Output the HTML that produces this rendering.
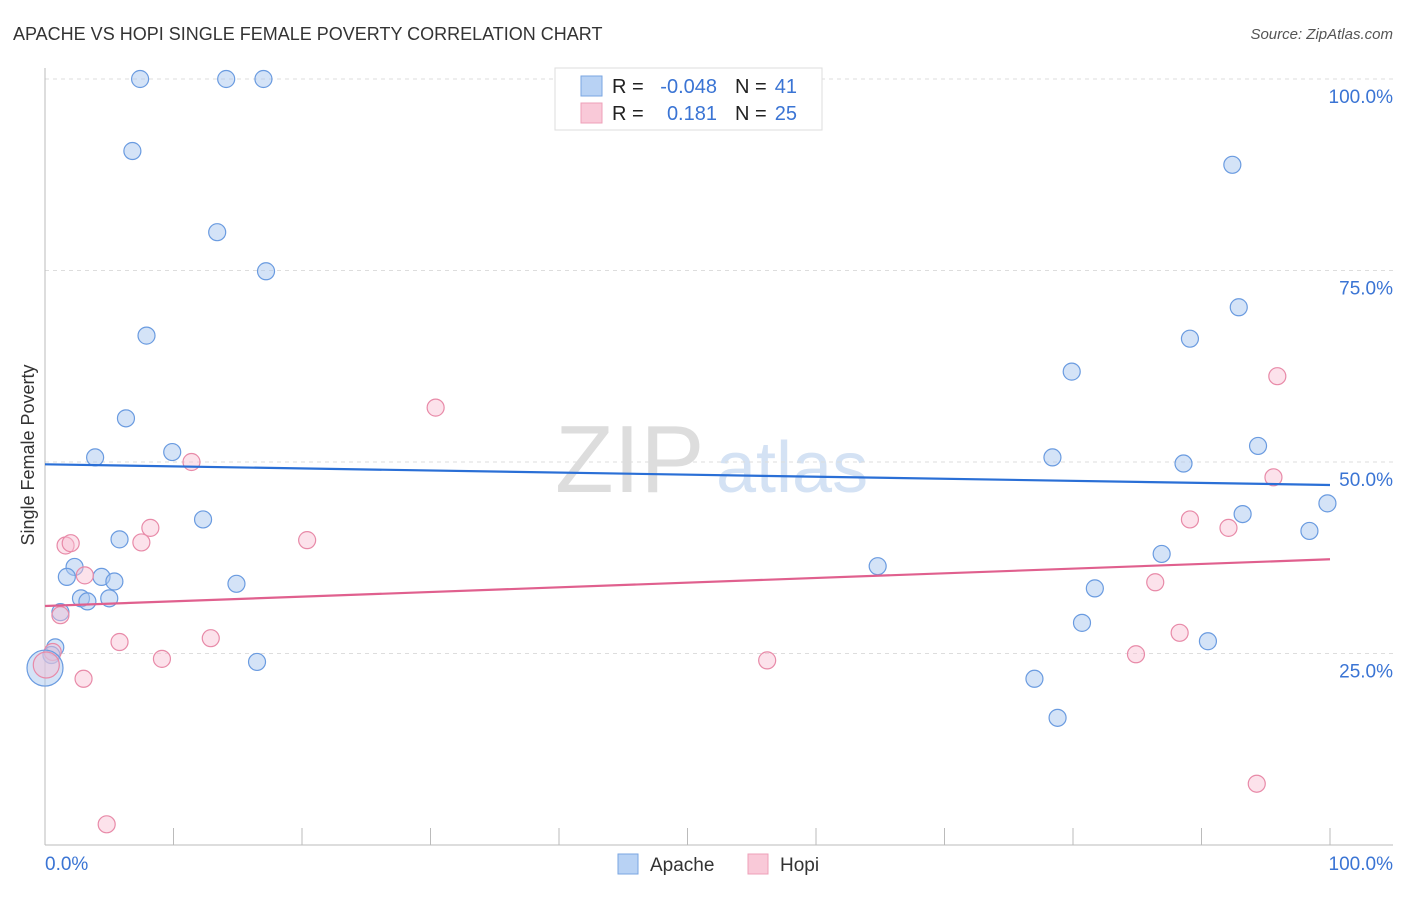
<!DOCTYPE html>
<html><head><meta charset="utf-8"><style>
body{margin:0;background:#fff;font-family:"Liberation Sans",sans-serif;}
svg text{font-family:"Liberation Sans",sans-serif;}
</style></head><body>
<svg id="chart" width="1406" height="892" xmlns="http://www.w3.org/2000/svg">
<text x="13" y="40" font-size="18" fill="#333">APACHE VS HOPI SINGLE FEMALE POVERTY CORRELATION CHART</text>
<text x="1393" y="39" font-size="15" fill="#555" font-style="italic" text-anchor="end">Source: ZipAtlas.com</text>
<g>
<text x="555" y="492" font-size="96" fill="#ddd" font-family="Liberation Serif, serif">ZIP</text>
<text x="716" y="492" font-size="72" fill="#d4e2f4">atlas</text>
</g>
<g id="grid"></g>
<g id="axes"></g>
<g id="marks"></g>
<text transform="translate(34,455) rotate(-90)" font-size="18" fill="#333" text-anchor="middle">Single Female Poverty</text>
<g>
<rect x="555" y="68" width="267" height="62" fill="#fff" stroke="#ddd"/>
<rect x="581" y="76" width="21" height="20" fill="#b8d2f4" stroke="#7aa6e2"/>
<rect x="581" y="103" width="21" height="20" fill="#f9c9d8" stroke="#eea0b8"/>
<text x="612" y="93" font-size="20" fill="#222">R =</text>
<text x="717" y="93" font-size="20" fill="#3a74d4" text-anchor="end">-0.048</text>
<text x="735" y="93" font-size="20" fill="#222">N =</text>
<text x="797" y="93" font-size="20" fill="#3a74d4" text-anchor="end">41</text>
<text x="612" y="120" font-size="20" fill="#222">R =</text>
<text x="717" y="120" font-size="20" fill="#3a74d4" text-anchor="end">0.181</text>
<text x="735" y="120" font-size="20" fill="#222">N =</text>
<text x="797" y="120" font-size="20" fill="#3a74d4" text-anchor="end">25</text>
</g>
<g>
<rect x="618" y="854" width="20" height="20" fill="#b8d2f4" stroke="#7aa6e2"/>
<text x="650" y="871" font-size="19" fill="#333">Apache</text>
<rect x="748" y="854" width="20" height="20" fill="#f9c9d8" stroke="#eea0b8"/>
<text x="780" y="871" font-size="19" fill="#333">Hopi</text>
</g>
</svg>
<script>
const apacheX=[7.4,14.1,17.0,6.8,13.4,17.2,7.9,6.3,3.9,9.9,12.3,5.8,2.3,1.7,4.4,5.4,2.8,3.3,5.0,14.9,1.2,0.8,0.5,16.5,64.8,79.9,78.4,89.1,92.9,92.4,88.6,94.4,93.2,98.4,99.8,86.9,81.7,80.7,90.5,77.0,78.8];
const apacheY=[100,100,100,90.6,80.0,74.9,66.5,55.7,50.6,51.3,42.5,39.9,36.3,35.0,35.0,34.4,32.2,31.8,32.2,34.1,30.4,25.8,24.8,23.9,36.4,61.8,50.6,66.1,70.2,88.8,49.8,52.1,43.2,41.0,44.6,38.0,33.5,29.0,26.6,21.7,16.6];
const hopiX=[30.4,11.4,8.2,7.5,20.4,1.6,2.0,3.1,1.2,5.8,12.9,9.1,3.0,0.6,4.8,56.2,95.9,95.6,89.1,92.1,86.4,88.3,84.9,94.3];
const hopiY=[57.1,50.0,41.4,39.5,39.8,39.1,39.4,35.2,30.0,26.5,27.0,24.3,21.7,25.2,2.7,24.1,61.2,48.0,42.5,41.4,34.3,27.7,24.9,8.0];
const bigPoints=[{x:0,y:23.1,s:'apache'},{x:0.1,y:23.5,s:'hopi'}];
const apacheTrend=[49.7,47.0];
const hopiTrend=[31.2,37.3];
const yTicks=[25,50,75,100];
const yTickLabels=['25.0%','50.0%','75.0%','100.0%'];
const xTicks=[0,10,20,30,40,50,60,70,80,90,100];

const X0=45,X1=1330,Y0=845,Y100=79;
const sx=v=>X0+(X1-X0)*v/100;
const sy=v=>Y0-(Y0-Y100)*v/100;
const NS='http://www.w3.org/2000/svg';
function mk(tag,attrs,parent){const e=document.createElementNS(NS,tag);for(const k in attrs)e.setAttribute(k,attrs[k]);parent.appendChild(e);return e;}
const grid=document.getElementById('grid'),axes=document.getElementById('axes'),marks=document.getElementById('marks');
yTicks.forEach((t,i)=>{
 const l=mk('line',{x1:X0,x2:1393,y1:sy(t),y2:sy(t),stroke:'#ddd','stroke-dasharray':'4,4'},grid);
 
 
 const tx=mk('text',{x:1393,y:sy(t)+24,'font-size':19,fill:'#3a74d4','text-anchor':'end'},grid);
 tx.textContent=yTickLabels[i];
 
 
});
const ax=mk('line',{x1:X0,x2:1393,y1:Y0,y2:Y0,stroke:'#bbb'},axes);


const ay=mk('line',{x1:X0,x2:X0,y1:68,y2:Y0,stroke:'#bbb'},axes);


xTicks.forEach(t=>{
 const l=mk('line',{x1:sx(t),x2:sx(t),y1:828,y2:Y0,stroke:'#bbb'},axes);
 
 
});
const xl0=mk('text',{x:45,y:870,'font-size':19,fill:'#3a74d4'},axes);xl0.textContent='0.0%';


const xl1=mk('text',{x:1393,y:870,'font-size':19,fill:'#3a74d4','text-anchor':'end'},axes);xl1.textContent='100.0%';



const sty={apache:{fill:'rgba(170,200,240,0.5)',stroke:'#6a9be0'},hopi:{fill:'rgba(248,190,210,0.45)',stroke:'#e88aa8'}};
function pts(xs,ys,s){xs.forEach((x,i)=>{
 const c=mk('circle',{cx:sx(x),cy:sy(ys[i]),r:8.5,fill:sty[s].fill,stroke:sty[s].stroke,'stroke-width':1.2},marks);
 
 
});}
pts(apacheX,apacheY,'apache');
pts(hopiX,hopiY,'hopi');
bigPoints.forEach(p=>{
 const c=mk('circle',{cx:sx(p.x),cy:sy(p.y),r:p.s==='apache'?18:13,fill:sty[p.s].fill,stroke:sty[p.s].stroke,'stroke-width':1.2},marks);
 
 
});
const t1=mk('line',{x1:sx(0),x2:sx(100),y1:sy(apacheTrend[0]),y2:sy(apacheTrend[1]),stroke:'#2a6fd6','stroke-width':2.2},marks);


const t2=mk('line',{x1:sx(0),x2:sx(100),y1:sy(hopiTrend[0]),y2:sy(hopiTrend[1]),stroke:'#e0608e','stroke-width':2.2},marks);


</script>
</body></html>
